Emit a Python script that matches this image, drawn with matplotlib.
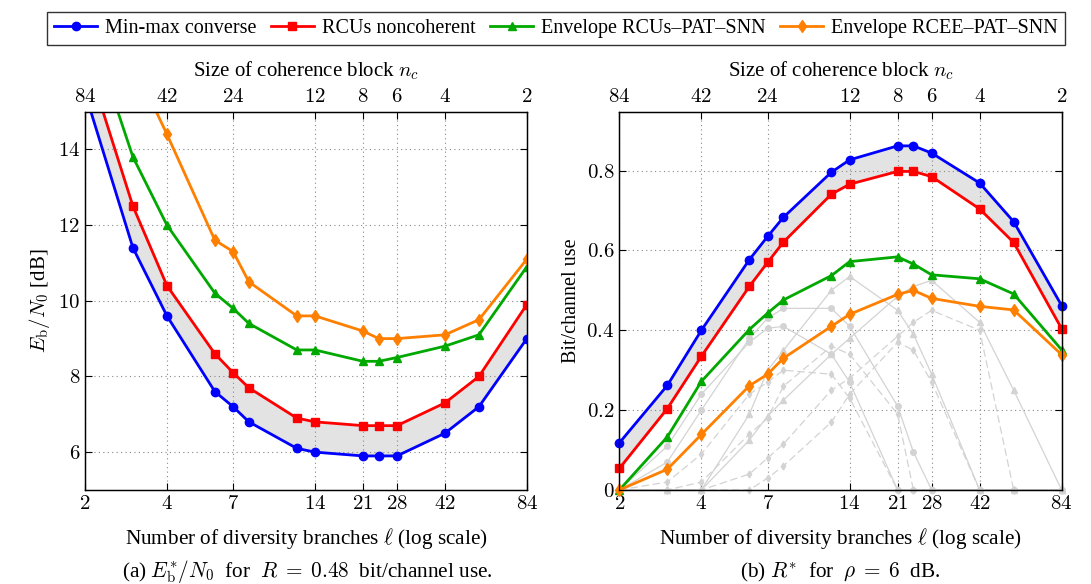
import matplotlib
matplotlib.use("Agg")
import matplotlib.pyplot as plt
from matplotlib.ticker import FixedLocator, NullLocator, FixedFormatter
import numpy as np

plt.rcParams['font.family'] = ['Liberation Serif', 'DejaVu Serif']
plt.rcParams['mathtext.fontset'] = 'cm'
plt.rcParams['font.size'] = 13

# diversity branches (x) and matching coherence block size
ell = [2, 3, 4, 6, 7, 8, 12, 14, 21, 24, 28, 42, 56, 84]
tick_ell = [2, 4, 7, 14, 21, 28, 42, 84]
tick_nc = [84, 42, 24, 12, 8, 6, 4, 2]

# (a) Eb/N0 for R = 0.48
eb_conv = [15.5, 11.4, 9.6, 7.6, 7.2, 6.8, 6.1, 6.0, 5.9, 5.9, 5.9, 6.5, 7.2, 9.0]
eb_rcus = [16.5, 12.5, 10.4, 8.6, 8.1, 7.7, 6.9, 6.8, 6.7, 6.7, 6.7, 7.3, 8.0, 9.9]
eb_pat = [17.6, 13.8, 12.0, 10.2, 9.8, 9.4, 8.7, 8.7, 8.4, 8.4, 8.5, 8.8, 9.1, 10.9]
eb_rcee = [20.0, 16.3, 14.4, 11.6, 11.3, 10.5, 9.6, 9.6, 9.2, 9.0, 9.0, 9.1, 9.5, 11.1]

# (b) rate for rho = 6 dB
r_conv = [0.118, 0.262, 0.40, 0.577, 0.635, 0.683, 0.796, 0.827, 0.862, 0.862, 0.844, 0.769, 0.672, 0.462]
r_rcus = [0.054, 0.204, 0.335, 0.51, 0.57, 0.621, 0.741, 0.766, 0.798, 0.798, 0.785, 0.704, 0.62, 0.404]
r_pat = [0.0, 0.133, 0.272, 0.402, 0.443, 0.476, 0.537, 0.572, 0.584, 0.566, 0.539, 0.529, 0.491, 0.351]
r_rcee = [0.0, 0.052, 0.139, 0.261, 0.29, 0.33, 0.41, 0.44, 0.49, 0.50, 0.48, 0.46, 0.451, 0.339]

# individual pilot configurations (grey)
gray_solid = [
    ([0, 0.11, 0.24, 0.37, 0.405, 0.41, 0.34, 0.27, 0, 0, 0, 0, 0, 0], 'o'),
    ([0, 0.07, 0.20, 0.38, 0.43, 0.455, 0.455, 0.41, 0.21, 0.095, 0, 0, 0, 0], 'o'),
    ([0, 0, 0, 0.19, 0.30, 0.35, 0.50, 0.535, 0.45, 0.39, 0.29, 0, 0, 0], '^'),
    ([0, 0, 0, 0.125, 0.185, 0.225, 0.34, 0.38, 0.485, 0.51, 0.525, 0.42, 0.25, 0], '^'),
]
gray_dashed = [
    [0, 0.02, 0.09, 0.24, 0.27, 0.30, 0.29, 0.23, 0, 0, 0, 0, 0, 0],
    [0, 0, 0.02, 0.14, 0.18, 0.26, 0.36, 0.34, 0.19, 0, 0, 0, 0, 0],
    [0, 0, 0, 0.04, 0.08, 0.115, 0.25, 0.28, 0.385, 0.42, 0.45, 0.40, 0, 0],
    [0, 0, 0, 0, 0.03, 0.06, 0.17, 0.24, 0.37, 0.35, 0.27, 0, 0, 0],
]

c_blue = '#0000ff'
c_red = '#ff0000'
c_green = '#00a800'
c_orange = '#ff8000'
c_gray = '#d3d3d3'

fig = plt.figure(figsize=(10.91, 5.84), dpi=100)
ax1 = fig.add_axes([0.0779, 0.161, 0.405, 0.648])
ax2 = fig.add_axes([0.5677, 0.161, 0.4054, 0.648])


def math(v):
    return '$%s$' % v


def style_axes(ax):
    ax.set_xscale('log')
    ax.set_xlim(2, 84)
    ax.xaxis.set_major_locator(FixedLocator(tick_ell))
    ax.xaxis.set_major_formatter(FixedFormatter([math(v) for v in tick_ell]))
    ax.xaxis.set_minor_locator(NullLocator())
    ax.grid(True, which='major', linestyle=(0, (1, 3)), color='#888888', linewidth=0.8)
    ax.tick_params(direction='in', top=False, right=True, labelsize=15, length=5)
    ax.set_xlabel(r'Number of diversity branches $\ell$ (log scale)', fontsize=15.3, labelpad=9)
    top = ax.twiny()
    top.set_xscale('log')
    top.set_xlim(2, 84)
    top.xaxis.set_major_locator(FixedLocator(tick_ell))
    top.xaxis.set_major_formatter(FixedFormatter([math(v) for v in tick_nc]))
    top.xaxis.set_minor_locator(NullLocator())
    top.tick_params(direction='in', labelsize=15, length=5)
    top.set_xlabel(r'Size of coherence block $n_c$', fontsize=15, labelpad=8)
    for s in list(ax.spines.values()) + list(top.spines.values()):
        s.set_linewidth(0.9)


lw = 2.0
ms = 6

# left panel
ax1.fill_between(ell, eb_conv, eb_rcus, color='#e3e3e3', zorder=1)
ax1.plot(ell, eb_conv, color=c_blue, marker='o', lw=lw, ms=ms, zorder=5, label='Min-max converse')
ax1.plot(ell, eb_rcus, color=c_red, marker='s', lw=lw, ms=ms, zorder=5, label='RCUs noncoherent')
ax1.plot(ell, eb_pat, color=c_green, marker='^', lw=lw, ms=ms, zorder=5, label='Envelope RCUs–PAT–SNN')
ax1.plot(ell, eb_rcee, color=c_orange, marker='d', lw=lw, ms=ms, zorder=5, label='Envelope RCEE–PAT–SNN')
style_axes(ax1)
ax1.set_ylim(5, 15)
ax1.set_yticks([6, 8, 10, 12, 14])
ax1.set_yticklabels([math(v) for v in [6, 8, 10, 12, 14]])
ax1.set_ylabel(r'$E_\mathrm{b}/N_0$ [dB]', fontsize=15)

# right panel
for vals, mk in gray_solid:
    ax2.plot(ell, vals, color=c_gray, lw=0.9, marker=mk, ms=4, zorder=2, clip_on=False)
for vals in gray_dashed:
    ax2.plot(ell, vals, color=c_gray, lw=0.9, ls=(0, (6, 3)), marker='d', ms=3.5, zorder=2, clip_on=False)
ax2.fill_between(ell, r_conv, r_rcus, color='#e3e3e3', zorder=1)
ax2.plot(ell, r_conv, color=c_blue, marker='o', lw=lw, ms=ms, zorder=5, clip_on=False)
ax2.plot(ell, r_rcus, color=c_red, marker='s', lw=lw, ms=ms, zorder=5, clip_on=False)
ax2.plot(ell, r_pat, color=c_green, marker='^', lw=lw, ms=ms, zorder=5, clip_on=False)
ax2.plot(ell, r_rcee, color=c_orange, marker='d', lw=lw, ms=ms, zorder=5, clip_on=False)
style_axes(ax2)
ax2.set_ylim(0, 0.948)
ax2.set_yticks([0, 0.2, 0.4, 0.6, 0.8])
ax2.set_yticklabels([math(v) for v in ['0', '0.2', '0.4', '0.6', '0.8']])
ax2.set_ylabel('Bit/channel use', fontsize=14.5)

handles, labels = ax1.get_legend_handles_labels()
leg = fig.legend(handles, labels, loc='upper center', bbox_to_anchor=(0.5096, 0.997), ncol=4,
                 fontsize=14.5, frameon=True, fancybox=False, edgecolor='black',
                 handlelength=2.15, columnspacing=0.7, handletextpad=0.4, borderpad=0.35)
leg.get_frame().set_linewidth(1.0)

fig.text(0.2815, 0.012, r'(a) $E_\mathrm{b}^{*}/N_0\;$ for $\;R\;=\;0.48\;$ bit/channel use.', ha='center', fontsize=15.3)
fig.text(0.770, 0.012, r'(b) $R^{*}\;$ for $\;\rho\;=\;6\;$ dB.', ha='center', fontsize=15.3)

fig.savefig('out.png', dpi=100)
